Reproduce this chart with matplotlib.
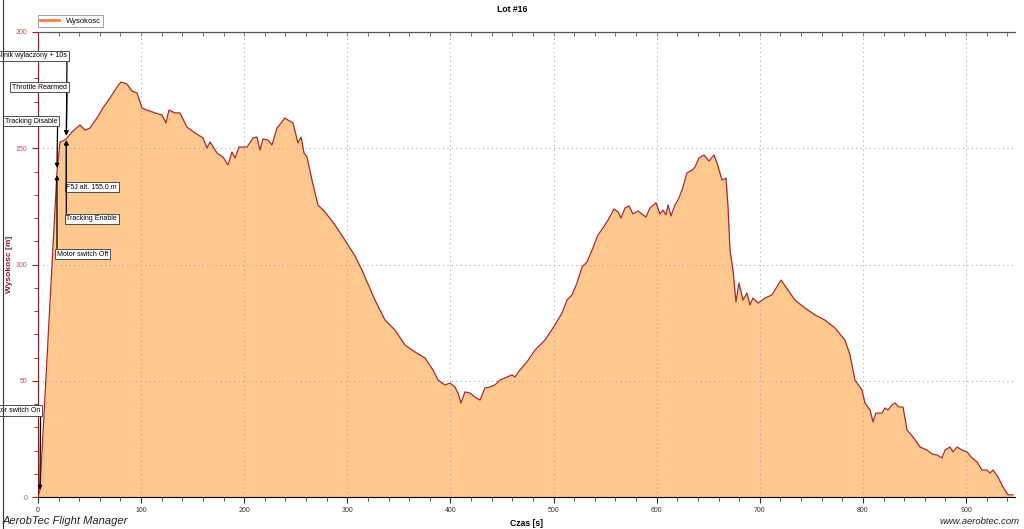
import matplotlib
matplotlib.use("Agg")
import matplotlib.pyplot as plt
from matplotlib.lines import Line2D
from matplotlib.ticker import MultipleLocator

plt.rcParams['font.family'] = ['Liberation Sans', 'DejaVu Sans']

# flight altitude trace
time_s = [0, 1.9, 18.4, 21.3, 24.2, 27.2, 33.0, 40.7, 45.6, 50.4, 57.2, 63.0, 69.8, 76.6, 80.5,
          86.3, 91.2, 96.0, 100.9, 105.7, 113.5, 120.3, 124.1, 127.0, 132.9, 137.7, 144.5, 152.3,
          160.0, 163.9, 166.8, 173.6, 179.4, 184.3, 188.1, 191.1, 194.9, 202.7, 208.5, 212.4,
          215.3, 218.2, 223.1, 226.9, 231.8, 239.5, 242.5, 247.3, 252.1, 255.1, 258.0, 260.9,
          265.7, 271.5, 278.3, 288.0, 297.7, 307.4, 314.2, 326.8, 336.5, 346.2, 355.9, 365.6,
          375.3, 383.1, 387.9, 394.7, 399.6, 404.4, 407.3, 410.2, 414.1, 419.0, 423.8, 428.7,
          433.5, 438.4, 443.2, 448.0, 454.8, 459.7, 462.6, 467.4, 474.2, 482.0, 491.7, 501.4,
          508.2, 513.0, 517.9, 522.7, 527.6, 532.4, 537.3, 543.1, 547.9, 552.8, 558.6, 562.5,
          565.4, 569.3, 573.2, 577.0, 581.9, 589.6, 593.5, 599.3, 603.2, 606.1, 609.0, 611.0,
          613.9, 617.8, 620.7, 624.6, 629.4, 634.3, 637.2, 641.0, 645.9, 650.7, 655.6, 658.5,
          663.4, 667.2, 669.2, 671.1, 674.0, 676.9, 679.8, 683.7, 687.6, 690.5, 693.4, 698.3,
          705.1, 711.8, 720.6, 727.4, 734.1, 743.8, 753.5, 763.2, 772.9, 782.6, 787.5, 792.3,
          799.1, 802.0, 806.9, 809.8, 812.7, 818.5, 821.4, 824.3, 828.2, 831.1, 835.0, 838.9,
          842.8, 848.6, 855.4, 862.2, 867.0, 871.9, 876.7, 879.6, 884.5, 887.4, 891.3, 896.1,
          901.0, 905.8, 910.7, 915.5, 920.4, 923.3, 926.2, 931.0, 935.9, 940.7, 945.6]
altitude_m = [0, 3.0, 139.8, 152.7, 153.1, 154.0, 157.0, 160.0, 157.8, 158.7, 163.0, 167.3, 171.6,
              176.3, 178.5, 177.6, 174.6, 173.8, 167.3, 166.4, 165.2, 164.3, 160.9, 166.4, 165.2,
              165.2, 159.1, 156.6, 154.4, 150.1, 152.7, 148.0, 146.2, 142.8, 148.4, 145.8, 150.5,
              150.5, 154.4, 154.8, 149.2, 154.0, 153.5, 151.4, 158.7, 163.0, 162.1, 160.9, 152.3,
              154.8, 147.9, 146.2, 136.3, 125.6, 122.6, 117.0, 110.5, 103.7, 97.6, 84.7, 76.1,
              71.8, 65.4, 62.4, 59.8, 54.6, 50.3, 48.2, 49.0, 47.3, 44.7, 40.4, 45.2, 44.7, 43.0,
              41.7, 46.9, 47.3, 48.2, 50.3, 51.6, 52.5, 51.6, 54.6, 58.1, 63.2, 67.5, 74.0, 79.1,
              84.7, 86.9, 92.0, 98.9, 101.1, 106.2, 112.7, 115.7, 119.1, 123.9, 122.6, 120.0,
              124.3, 125.2, 121.7, 123.0, 120.4, 124.3, 126.5, 121.7, 123.4, 121.3, 125.6, 120.9,
              125.6, 127.7, 132.0, 139.4, 140.6, 141.9, 145.8, 147.1, 144.5, 147.1, 143.7, 136.3,
              137.2, 124.7, 106.2, 97.6, 83.9, 92.0, 84.7, 87.7, 82.6, 85.6, 83.4, 85.6, 86.9,
              93.3, 89.0, 84.7, 81.3, 78.3, 76.1, 72.7, 67.5, 61.1, 50.3, 46.0, 40.4, 37.4, 32.3,
              36.1, 36.1, 38.3, 37.4, 39.6, 40.4, 38.7, 38.7, 28.8, 25.8, 21.5, 20.2, 18.5, 18.1,
              16.8, 20.2, 21.5, 19.4, 21.5, 20.2, 19.4, 16.8, 15.1, 11.6, 11.6, 10.3, 11.6, 8.6,
              4.3, 0.9, 0.9]

# flight events: label, time of event, altitude of event, label altitude, label side
event_labels = ["Motor switch On", "Silnik wylaczony + 10s", "Throttle Rearmed", "Tracking Disable",
                "F5J alt. 155.0 m", "Tracking Enable", "Motor switch Off"]
event_time = [1.9, 27.5, 27.5, 18.4, 27.5, 27.5, 18.4]
event_alt = [3.0, 155.5, 155.5, 141.5, 153.5, 153.5, 138.5]
label_alt = [37.2, 189.7, 176.3, 161.7, 133.3, 119.6, 104.5]
label_side = ["left", "left", "left", "left", "right", "right", "right"]

fig = plt.figure(figsize=(10.24, 5.29), dpi=100)
ax = fig.add_axes([38 / 1024, 1 - 497 / 529, 977 / 1024, 465 / 529])

red = '#8b1a1a'
ax.fill_between(time_s, altitude_m, 0, color='#ffc88e', lw=0)
ax.plot(time_s, altitude_m, color='#a52a2a', lw=0.9)

ax.set_xlim(0, 947.5)
ax.set_ylim(0, 200)
ax.xaxis.set_major_locator(MultipleLocator(100))
ax.xaxis.set_minor_locator(MultipleLocator(20))
ax.yaxis.set_major_locator(MultipleLocator(50))
ax.yaxis.set_minor_locator(MultipleLocator(10))
ax.grid(True, which='major', color='#a8a8a8', ls=(0, (1, 3)), lw=0.8)

ax.spines['right'].set_visible(False)
ax.spines['left'].set_color(red)
ax.spines['top'].set_color('#555555')
ax.tick_params(axis='x', which='both', direction='out', labelsize=5, colors='#333333', top=False)
ax.tick_params(axis='x', which='major', length=4, width=0.8)
ax.tick_params(axis='x', which='minor', length=3, width=0.6)
ax.tick_params(axis='y', which='both', direction='out', labelsize=5, colors=red, labelcolor='#c05050')
ax.tick_params(axis='y', which='major', length=4, width=0.8)
ax.tick_params(axis='y', which='minor', length=3, width=0.6)

# small inward ticks hanging from the top frame
top = ax.secondary_xaxis('top')
top.xaxis.set_major_locator(MultipleLocator(20))
top.tick_params(direction='in', length=3, width=0.6, labeltop=False, colors='#555555')
top.spines['top'].set_color('#555555')

ax.set_xlabel("Czas [s]", fontsize=6.2, fontweight='bold', labelpad=3)
ax.set_ylabel("Wysokosc [m]", fontsize=6, fontweight='bold', color=red)
ax.yaxis.set_label_coords(-25 / 977, 0.5)
fig.text(0.5, 1 - 9 / 529, "Lot #16", ha='center', va='center', fontsize=6.2, fontweight='bold')

for lab, et, ea, la, side in zip(event_labels, event_time, event_alt, label_alt, label_side):
    if side == "left":
        ha, rel, tx = 'right', (1, 0), et + 0.6
    else:
        ha, rel, tx = 'left', (0, 1), et
    ax.annotate(lab, xy=(et, ea), xytext=(tx, la),
                ha=ha, va='center', fontsize=5, annotation_clip=False,
                bbox=dict(boxstyle='square,pad=0.25', fc='white', ec='#333333', lw=0.6),
                arrowprops=dict(arrowstyle='-|>', color='black', lw=0.9, relpos=rel,
                                shrinkA=0, shrinkB=0, mutation_scale=6))

fig.add_artist(Line2D([3 / 1024, 3 / 1024], [0, 1], color='#333333', lw=0.8))

handle = Line2D([], [], color='#f08040', lw=2)
leg = fig.legend([handle], ["Wysokosc"], loc='upper left', bbox_to_anchor=(38 / 1024, 1 - 15 / 529),
                 fontsize=5.5, frameon=True, fancybox=False, borderpad=0.3, handlelength=2.5,
                 handletextpad=0.8, borderaxespad=0)
leg.get_frame().set_edgecolor('#888888')
leg.get_frame().set_linewidth(0.7)

fig.text(3 / 1024, 1 - 521 / 529, "AerobTec Flight Manager", ha='left', va='center',
         fontsize=8, style='italic', color='#222222')
fig.text(1020 / 1024, 1 - 521 / 529, "www.aerobtec.com", ha='right', va='center',
         fontsize=6.8, style='italic', color='#222222')

fig.savefig("out.png", dpi=100)
